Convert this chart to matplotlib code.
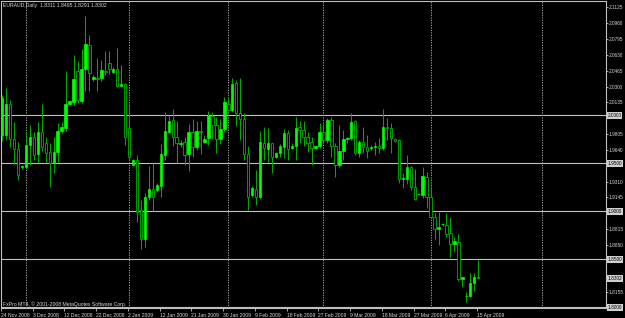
import matplotlib
matplotlib.use('Agg')
import matplotlib.pyplot as plt

# ---------------- data (EURAUD daily) ----------------
opens = [1.9795, 1.9798, 2.0118, 1.9750, 1.9646, 1.9461, 1.9458, 1.9694, 1.9771, 1.9597,
         1.9826, 1.9708, 1.9618, 1.9500, 1.9618, 1.9833, 1.9868, 2.0118, 2.0139, 2.0465,
         2.0146, 2.0479, 2.0735, 2.0375, 2.0389, 2.0389, 2.0461, 2.0542, 2.0451, 2.0485,
         2.0308, 2.0326, 1.9866, 1.9482, 1.9534, 1.9014, 1.8715, 1.9146, 1.9229, 1.9219,
         1.9264, 1.9590, 1.9826, 1.9951, 1.9777, 1.9701, 1.9722, 1.9597, 1.9826, 1.9667,
         1.9836, 1.9722, 1.9763, 1.9993, 1.9896, 1.9756, 1.9854, 2.0115, 2.0055, 2.0333,
         2.0021, 1.9958, 1.9594, 1.9170, 1.9229, 1.9152, 1.9708, 1.9646, 1.9708, 1.9562,
         1.9610, 1.9667, 1.9813, 1.9659, 1.9680, 1.9881, 1.9847, 1.9771, 1.9719, 1.9659,
         1.9680, 1.9829, 1.9743, 1.9951, 1.9680, 1.9482, 1.9631, 1.9750, 1.9760, 1.9941,
         1.9610, 1.9719, 1.9667, 1.9664, 1.9667, 1.9683, 1.9656, 1.9878, 1.9866, 1.9750,
         1.9743, 1.9336, 1.9334, 1.9458, 1.9250, 1.9177, 1.9167, 1.9360, 1.9152, 1.8937,
         1.8812, 1.8865, 1.8857, 1.8777, 1.8659, 1.8683, 1.8292, 1.8115, 1.8118, 1.8256,
         1.8311]
highs = [2.0211, 2.0284, 2.0159, 1.9930, 1.9722, 1.9485, 1.9826, 1.9896, 1.9826, 1.9930,
         2.0118, 1.9777, 1.9708, 1.9771, 1.9923, 1.9930, 2.0458, 2.0159, 2.0631, 2.0562,
         2.0688, 2.1034, 2.0840, 2.0415, 2.0597, 2.0576, 2.0673, 2.0667, 2.0506, 2.0701,
         2.0524, 2.0336, 2.0104, 1.9542, 1.9586, 1.9118, 1.9194, 1.9472, 1.9500, 1.9298,
         1.9701, 2.0034, 1.9993, 2.0062, 1.9937, 1.9743, 1.9777, 1.9909, 1.9965, 1.9937,
         1.9937, 1.9798, 2.0048, 2.0034, 1.9985, 1.9965, 2.0191, 2.0187, 2.0385, 2.0368,
         2.0389, 2.0021, 1.9680, 1.9264, 1.9430, 1.9840, 1.9881, 1.9865, 1.9711, 1.9621,
         1.9701, 1.9854, 1.9847, 1.9708, 1.9985, 1.9941, 1.9941, 1.9829, 1.9777, 1.9691,
         1.9917, 1.9917, 1.9969, 1.9979, 1.9708, 1.9899, 1.9847, 1.9777, 2.0027, 1.9951,
         1.9743, 1.9875, 1.9795, 1.9691, 1.9725, 1.9760, 2.0066, 1.9975, 1.9917, 1.9760,
         1.9750, 1.9396, 1.9586, 1.9472, 1.9437, 1.9194, 1.9465, 1.9413, 1.9264, 1.8985,
         1.8996, 1.8881, 1.8979, 1.8944, 1.8735, 1.8763, 1.8319, 1.8162, 1.8360, 1.8360,
         1.8495]
lows = [1.9732, 1.9743, 1.9673, 1.9493, 1.9326, 1.9438, 1.9451, 1.9485, 1.9534, 1.9500,
        1.9625, 1.9500, 1.9250, 1.9402, 1.9500, 1.9813, 1.9840, 2.0107, 2.0104, 2.0125,
        2.0131, 2.0250, 2.0250, 2.0362, 2.0250, 2.0360, 2.0423, 2.0430, 2.0437, 2.0298,
        2.0300, 1.9691, 1.9534, 1.9472, 1.8892, 1.8604, 1.8631, 1.9118, 1.9000, 1.9204,
        1.9146, 1.9534, 1.9813, 1.9680, 1.9500, 1.9667, 1.9479, 1.9417, 1.9563, 1.9639,
        1.9597, 1.9708, 1.9691, 1.9750, 1.9610, 1.9701, 1.9826, 2.0042, 2.0034, 1.9889,
        1.9743, 1.9534, 1.9014, 1.9149, 1.9062, 1.9125, 1.9534, 1.9517, 1.9396, 1.9552,
        1.9562, 1.9552, 1.9534, 1.9652, 1.9534, 1.9708, 1.9680, 1.9621, 1.9482, 1.9646,
        1.9656, 1.9708, 1.9708, 1.9569, 1.9360, 1.9458, 1.9534, 1.9708, 1.9743, 1.9586,
        1.9569, 1.9604, 1.9552, 1.9639, 1.9586, 1.9604, 1.9639, 1.9743, 1.9604, 1.9725,
        1.9298, 1.9240, 1.9284, 1.9222, 1.9118, 1.9167, 1.9135, 1.9031, 1.8927, 1.8708,
        1.8649, 1.8847, 1.8735, 1.8521, 1.8590, 1.8277, 1.8214, 1.8059, 1.8105, 1.8174,
        1.8291]
closes = [2.0180, 2.0118, 1.9750, 1.9646, 1.9381, 1.9469, 1.9694, 1.9771, 1.9590, 1.9826,
          1.9673, 1.9610, 1.9500, 1.9618, 1.9840, 1.9881, 2.0118, 2.0152, 2.0375, 2.0159,
          2.0485, 2.0743, 2.0444, 2.0402, 2.0381, 2.0472, 2.0454, 2.0485, 2.0485, 2.0305,
          2.0326, 1.9777, 1.9569, 1.9534, 1.8996, 1.8715, 1.9146, 1.9229, 1.9146, 1.9274,
          1.9597, 1.9833, 1.9944, 1.9777, 1.9708, 1.9715, 1.9590, 1.9826, 1.9673, 1.9833,
          1.9830, 1.9756, 1.9993, 1.9896, 1.9756, 1.9854, 2.0139, 2.0055, 2.0326, 2.0021,
          1.9958, 1.9594, 1.9146, 1.9243, 1.9152, 1.9719, 1.9656, 1.9708, 1.9569, 1.9610,
          1.9680, 1.9813, 1.9652, 1.9680, 1.9871, 1.9847, 1.9771, 1.9715, 1.9656, 1.9680,
          1.9823, 1.9743, 1.9951, 1.9680, 1.9482, 1.9631, 1.9750, 1.9767, 1.9933, 1.9610,
          1.9719, 1.9667, 1.9631, 1.9670, 1.9683, 1.9656, 1.9875, 1.9872, 1.9760, 1.9735,
          1.9334, 1.9343, 1.9458, 1.9250, 1.9131, 1.9183, 1.9368, 1.9152, 1.8937, 1.8812,
          1.8840, 1.8871, 1.8764, 1.8659, 1.8694, 1.8292, 1.8319, 1.8121, 1.8256, 1.8312,
          1.8302]

date_labels = ["24 Nov 2008", "3 Dec 2008", "12 Dec 2008", "22 Dec 2008", "2 Jan 2009",
               "12 Jan 2009", "21 Jan 2009", "30 Jan 2009", "9 Feb 2009", "18 Feb 2009",
               "27 Feb 2009", "9 Mar 2009", "18 Mar 2009", "27 Mar 2009", "6 Apr 2009",
               "15 Apr 2009"]
label_step = 8
separator_bars = [6, 32, 57, 81, 108, 136]
level_lines = [2.0000, 1.9500, 1.9000, 1.8500, 1.8000]
price_ticks = [2.1125, 2.0960, 2.0795, 2.0630, 2.0465, 2.0300, 2.0135, 1.9805, 1.9640,
               1.9310, 1.9145, 1.8815, 1.8650, 1.8155]
title_text = "EURAUD,Daily  1.8311 1.8495 1.8291 1.8302"
copyright_text = "FxPro MT4, \u00a9 2001-2008 MetaQuotes Software Corp."
bid_price = 1.8302

# ---------------- styling ----------------
W, H = 625, 318
BG = '#000000'
BULL = '#00ff00'
BEAR_EDGE = '#00b400'
WICK = '#00a800'
GRID = '#c0c0c0'
TXT = '#d8d8d8'
FONT = 'Liberation Sans'
YFS = 3.4

fig = plt.figure(figsize=(W / 100, H / 100), dpi=100, facecolor=BG)
ax = fig.add_axes([1 / W, 10 / H, 605 / W, 307 / H], facecolor=BG)

px_per_bar = 3.97
ax.set_xlim((1 - 1.7) / px_per_bar, (606 - 1.7) / px_per_bar)
ax.set_ylim(1.7993, 2.1191)

n = len(opens)
xs = list(range(n))

# level lines and period separators
for lv in level_lines:
    ax.axhline(lv, color=GRID, lw=0.8, zorder=1)
for sb in separator_bars:
    ax.axvline(sb, color='#9a9a9a', lw=0.75, ls=(0, (1.2, 1.2)), zorder=1)

# wicks
ax.vlines(xs, lows, highs, color=WICK, lw=0.75, zorder=2)

# bodies
bw = 0.62
for x, o, c in zip(xs, opens, closes):
    lo, hi = min(o, c), max(o, c)
    if c >= o:
        ax.bar(x, max(hi - lo, 0.0003), bottom=lo, width=bw, color=BULL,
               edgecolor=BULL, lw=0.5, zorder=3)
    else:
        ax.bar(x, max(hi - lo, 0.0003), bottom=lo, width=bw, color=BG,
               edgecolor=BEAR_EDGE, lw=0.6, zorder=3)

# frame
for s in ax.spines.values():
    s.set_color(GRID)
    s.set_linewidth(0.8)

# price axis on the right
ax.yaxis.tick_right()
ax.set_yticks(price_ticks)
ax.set_yticklabels([f"{p:.4f}" for p in price_ticks])
ax.tick_params(axis='y', colors=GRID, labelcolor=TXT, length=1.5, width=0.6,
               pad=0.6, labelsize=YFS)
for lab in ax.get_yticklabels():
    lab.set_family(FONT)

# boxes for level lines and bid
ytr = ax.get_yaxis_transform()
for lv in level_lines + [bid_price]:
    ax.text(1.0 + 1.5 / 605, lv, f"{lv:.4f}", transform=ytr, ha='left', va='center',
            fontsize=YFS, family=FONT, color='#000000', zorder=6, clip_on=False,
            bbox=dict(boxstyle='square,pad=0.2', fc='#d0d0d0', ec='none'))

# date axis
ticks = [i * label_step - 0.3 for i in range(len(date_labels))]
ax.set_xticks(ticks)
ax.set_xticklabels(date_labels, ha='left')
ax.tick_params(axis='x', colors=GRID, labelcolor=TXT, length=2.5, width=0.6,
               pad=0.8, labelsize=3.6)
for lab in ax.get_xticklabels():
    lab.set_family(FONT)

# texts
fig.text(3 / W, 1 - 5.5 / H, title_text, color=TXT, fontsize=3.7, family=FONT,
         ha='left', va='center')
fig.text(3 / W, 1 - 304.5 / H, copyright_text, color=TXT, fontsize=3.7, family=FONT,
         ha='left', va='center')

fig.savefig('out.png', dpi=100, facecolor=BG)
